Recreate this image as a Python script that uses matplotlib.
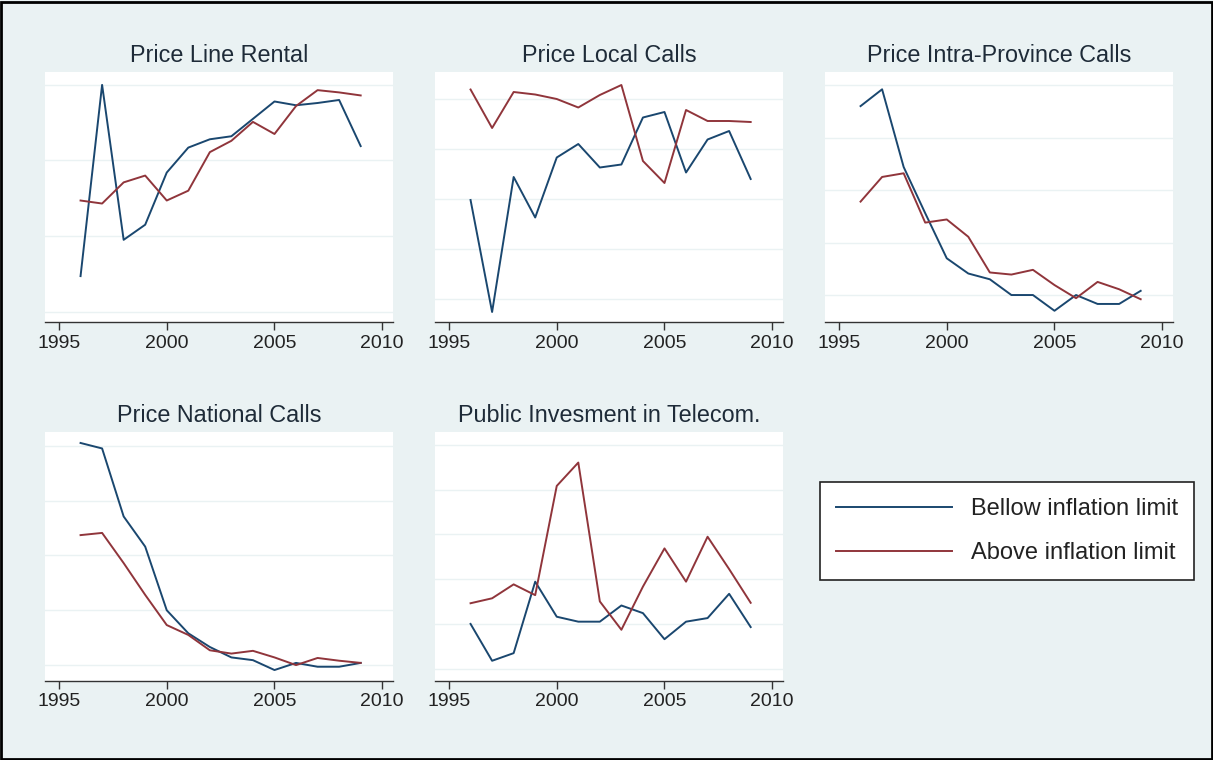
import matplotlib
matplotlib.use("Agg")
import matplotlib.pyplot as plt
from matplotlib.patches import Rectangle
from matplotlib.lines import Line2D

plt.rcParams['font.family'] = ['Liberation Sans', 'DejaVu Sans']

years = list(range(1996, 2010))

titles = ["Price Line Rental", "Price Local Calls", "Price Intra-Province Calls",
          "Price National Calls", "Public Invesment in Telecom."]

below_line_rental = [0.47, 3.0, 0.95, 1.15, 1.84, 2.17, 2.28, 2.32, 2.55, 2.78, 2.73, 2.76, 2.80, 2.19]
above_line_rental = [1.47, 1.43, 1.71, 1.80, 1.47, 1.60, 2.11, 2.26, 2.51, 2.35, 2.72, 2.93, 2.90, 2.86]

below_local = [1.97, -0.27, 2.43, 1.62, 2.82, 3.09, 2.62, 2.68, 3.62, 3.73, 2.52, 3.18, 3.35, 2.39]
above_local = [4.18, 3.41, 4.13, 4.08, 3.99, 3.82, 4.07, 4.27, 2.75, 2.31, 3.77, 3.55, 3.55, 3.53]

below_intra = [3.6, 3.92, 2.44, 1.56, 0.70, 0.41, 0.30, 0.0, 0.0, -0.30, 0.0, -0.17, -0.17, 0.08]
above_intra = [1.78, 2.25, 2.32, 1.38, 1.44, 1.11, 0.43, 0.39, 0.48, 0.19, -0.06, 0.25, 0.11, -0.08]

below_national = [4.05, 3.95, 2.71, 2.16, 1.0, 0.58, 0.33, 0.14, 0.09, -0.09, 0.04, -0.03, -0.03, 0.04]
above_national = [2.37, 2.41, 1.86, 1.28, 0.73, 0.55, 0.27, 0.21, 0.26, 0.14, 0.0, 0.13, 0.08, 0.04]

below_invest = [1.01, 0.19, 0.36, 1.95, 1.17, 1.06, 1.06, 1.42, 1.25, 0.67, 1.06, 1.14, 1.68, 0.94]
above_invest = [1.47, 1.58, 1.89, 1.65, 4.08, 4.60, 1.51, 0.88, 1.84, 2.69, 1.95, 2.95, 2.23, 1.48]

below_series = [below_line_rental, below_local, below_intra, below_national, below_invest]
above_series = [above_line_rental, above_local, above_intra, above_national, above_invest]

grid_levels = [[0, 1, 2, 3], [0, 1, 2, 3, 4], [0, 1, 2, 3, 4], [0, 1, 2, 3, 4], [0, 1, 2, 3, 4, 5]]
ylims = [(-0.137, 3.17), (-0.47, 4.53), (-0.514, 4.25), (-0.29, 4.25), (-0.26, 5.28)]
xticks = [1995, 2000, 2005, 2010]
legend_labels = ["Bellow inflation limit", "Above inflation limit"]

BLUE = "#1a476f"
RED = "#90353b"
BG = "#eaf2f3"
W, H = 1213, 760

fig = plt.figure(figsize=(W / 100, H / 100), dpi=100, facecolor=BG)

# panel boxes in pixels: left, right, top, bottom
boxes = [(45, 393, 72, 322), (435, 783, 72, 322), (825, 1173, 72, 322),
         (45, 393, 432, 681), (435, 783, 432, 681)]

for i, (l, r, t, b) in enumerate(boxes):
    ax = fig.add_axes([l / W, 1 - b / H, (r - l) / W, (b - t) / H])
    ax.set_facecolor("white")
    for g in grid_levels[i]:
        ax.axhline(g, color=BG, lw=1.0, zorder=0)
    ax.plot(years, below_series[i], color=BLUE, lw=1.4, zorder=3)
    ax.plot(years, above_series[i], color=RED, lw=1.4, zorder=3)
    ax.set_xlim(1994.35, 2010.5)
    ax.set_ylim(*ylims[i])
    ax.set_xticks(xticks)
    ax.set_yticks([])
    for s in ["top", "right", "left"]:
        ax.spines[s].set_visible(False)
    ax.spines["bottom"].set_color("#333333")
    ax.spines["bottom"].set_linewidth(1.0)
    ax.tick_params(axis="x", direction="out", length=5.5, width=1, color="#333333",
                   labelsize=14, labelcolor="#222222", pad=3.5)
    ax.set_title(titles[i], fontsize=16.8, color="#1e2b38", pad=7)

handles = [Line2D([], [], color=BLUE, lw=1.4), Line2D([], [], color=RED, lw=1.4)]
leg = fig.legend(handles, legend_labels, loc="center",
                 bbox_to_anchor=((821 + 1193) / 2 / W, 1 - (482 + 580) / 2 / H),
                 fontsize=17, frameon=True, fancybox=False, edgecolor="#222222",
                 facecolor="white", framealpha=1, handlelength=4.9, handletextpad=0.8,
                 labelspacing=0.93, borderpad=0.67, borderaxespad=0, labelcolor="#222222")
leg.get_frame().set_linewidth(1.2)

fig.patches.append(Rectangle((0.001, 0.001), 0.998, 0.997, transform=fig.transFigure,
                             fill=False, edgecolor="black", lw=2.0))

fig.savefig("out.png", dpi=100, facecolor=BG)
